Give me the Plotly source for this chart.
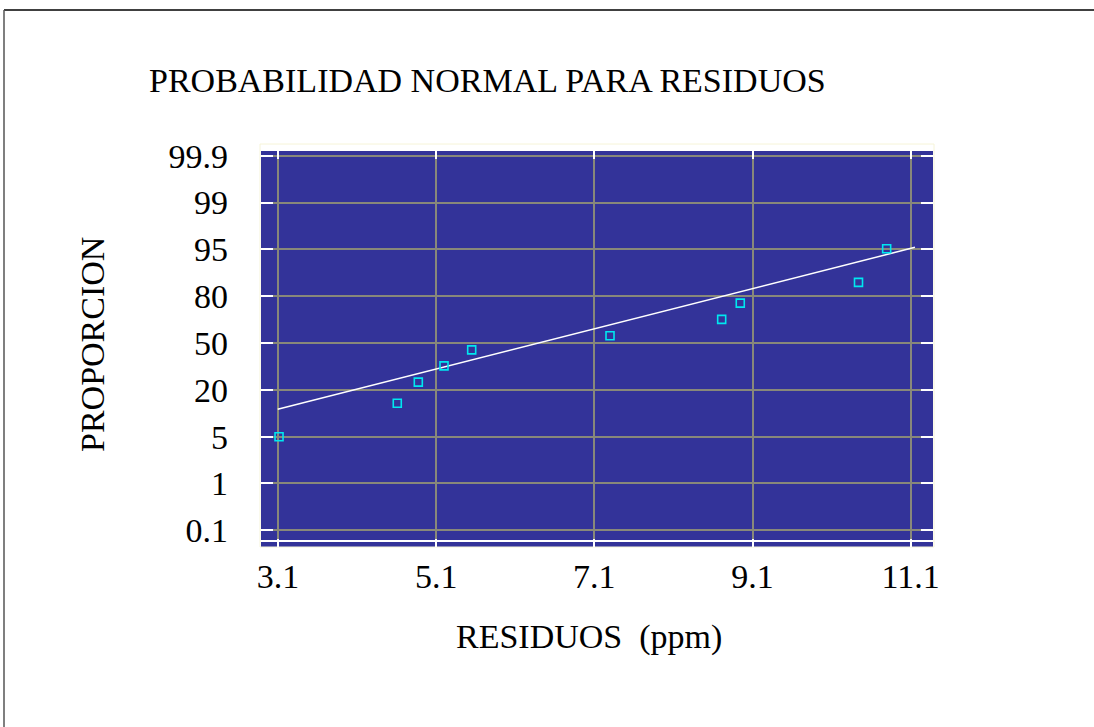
import plotly.graph_objects as go

# Residuals (ppm) and their normal scores (z) on the probability scale
residuos = [3.113, 4.608, 4.874, 5.199, 5.549, 7.298, 8.710, 8.945, 10.440, 10.796]
z_score = [-1.647, -1.057, -0.688, -0.402, -0.120, 0.126, 0.414, 0.700, 1.064, 1.655]

# Reference line end points
linea_x = [3.096, 11.154]
linea_z = [-1.163, 1.680]

# Axis ticks
x_ticks = [3.1, 5.1, 7.1, 9.1, 11.1]
x_labels = ["3.1", "5.1", "7.1", "9.1", "11.1"]
y_ticks = [-3.290, -2.467, -1.645, -0.822, 0.0, 0.822, 1.645, 2.467, 3.290]
y_labels = ["0.1", "1", "5", "20", "50", "80", "95", "99", "99.9"]

FONT = "Liberation Serif, Times New Roman, serif"
FS = 34
W, H = 1094, 727
L, R, T, B = 261, 933, 151, 547


def px_x(p):
    return (p - L) / (R - L)


def px_y(p):
    return (B - p) / (B - T)


fig = go.Figure()
fig.add_trace(go.Scatter(
    x=linea_x, y=linea_z, mode="lines",
    line=dict(color="white", width=1.5), hoverinfo="skip", showlegend=False,
))
fig.add_trace(go.Scatter(
    x=residuos, y=z_score, mode="markers",
    marker=dict(symbol="square-open", size=8, color="#00e8f0", line=dict(width=1.6, color="#00e8f0")),
    showlegend=False,
))

grid = "#88887a"
fig.update_xaxes(
    range=[2.885, 11.382], tickvals=x_ticks, ticktext=x_labels,
    showgrid=True, gridcolor=grid, gridwidth=1.5, zeroline=False,
    ticks="inside", ticklen=8, tickwidth=2, tickcolor="white", mirror="ticks",
    tickfont=dict(family=FONT, size=FS, color="black"), ticklabelstandoff=6,
    showline=False,
)
fig.update_yaxes(
    range=[-3.583, 3.372], tickvals=y_ticks, ticktext=y_labels,
    showgrid=True, gridcolor=grid, gridwidth=1.5, zeroline=False,
    ticks="inside", ticklen=12, tickwidth=2, tickcolor="white", mirror="ticks",
    tickfont=dict(family=FONT, size=FS, color="black"), ticklabelstandoff=32,
    showline=False,
)

shapes = [
    # white base line near the bottom of the plot area
    dict(type="line", xref="paper", yref="paper", x0=0, x1=1, y0=px_y(541), y1=px_y(541),
         line=dict(color="white", width=2)),
    # faint frame around the plot panel
    dict(type="rect", xref="paper", yref="paper", x0=px_x(260), x1=px_x(934), y0=px_y(547), y1=px_y(144),
         line=dict(color="#f6f4d8", width=1), layer="below"),
    # page border (top and left)
    dict(type="line", xref="paper", yref="paper", x0=px_x(4), x1=px_x(W), y0=px_y(10), y1=px_y(10),
         line=dict(color="black", width=1.5)),
    dict(type="line", xref="paper", yref="paper", x0=px_x(4), x1=px_x(4), y0=px_y(10), y1=px_y(H),
         line=dict(color="#555555", width=1.5)),
]

annotations = [
    dict(text="PROBABILIDAD NORMAL PARA RESIDUOS", xref="paper", yref="paper",
         x=px_x(147), y=px_y(80), xanchor="left", yanchor="middle", showarrow=False,
         font=dict(family=FONT, size=FS, color="black")),
    dict(text="RESIDUOS\u00a0\u00a0(ppm)", xref="paper", yref="paper",
         x=px_x(589), y=px_y(637), xanchor="center", yanchor="middle", showarrow=False,
         font=dict(family=FONT, size=FS, color="black")),
    dict(text="PROPORCION", xref="paper", yref="paper", textangle=-90,
         x=px_x(92), y=px_y(345), xanchor="center", yanchor="middle", showarrow=False,
         font=dict(family=FONT, size=FS, color="black")),
]

fig.update_layout(
    width=W, height=H,
    margin=dict(l=L, r=W - R, t=T, b=H - B, pad=0),
    plot_bgcolor="#333399", paper_bgcolor="white",
    shapes=shapes, annotations=annotations,
)

fig.write_html("out.html")
